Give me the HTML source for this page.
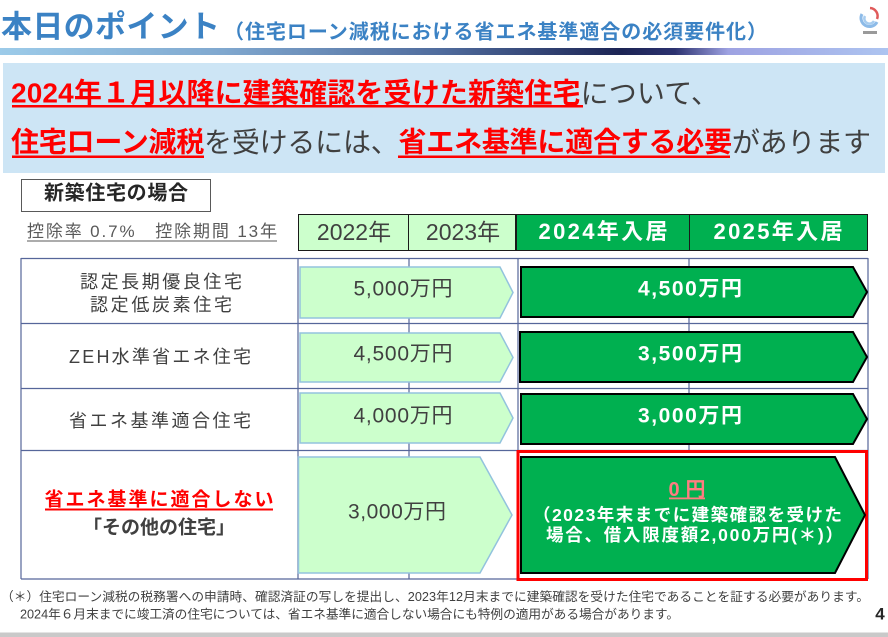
<!DOCTYPE html>
<html><head><meta charset="utf-8">
<style>
html,body{margin:0;padding:0;background:#fff;}
body{width:888px;height:637px;overflow:hidden;}
svg{display:block;}
text{font-family:"Liberation Sans","Noto Sans CJK JP",sans-serif;}
</style></head>
<body>
<svg width="888" height="637" viewBox="0 0 888 637" xmlns="http://www.w3.org/2000/svg">
<defs>
<linearGradient id="gb" x1="0" y1="0" x2="1" y2="0">
<stop offset="0" stop-color="#9ccbe9"/>
<stop offset="0.25" stop-color="#80a8cf"/>
<stop offset="0.5" stop-color="#4f6b9c"/>
<stop offset="0.7" stop-color="#1c2454"/>
<stop offset="0.76" stop-color="#2c3270"/>
<stop offset="0.82" stop-color="#9ea2e2"/>
<stop offset="1" stop-color="#adc4f0"/>
</linearGradient>
</defs>

<!-- title -->
<text x="1" y="27" font-size="31" font-weight="bold" fill="#3b82c4" dominant-baseline="central" textLength="219">本日のポイント</text>
<text x="224" y="32.5" font-size="20" font-weight="bold" fill="#3b82c4" dominant-baseline="central" textLength="543">（住宅ローン減税における省エネ基準適合の必須要件化）</text>

<!-- logo -->
<g fill="none">
<path d="M862 14 A8.5 8.5 0 1 0 877 22" stroke="#8dbbe8" stroke-width="3"/>
<path d="M865 16 A5 5 0 1 0 874 21" stroke="#a8cdef" stroke-width="2.5"/>
<path d="M870 8 A8 8 0 0 1 877 19" stroke="#e05a5a" stroke-width="2.5"/>
</g>
<rect x="863" y="31" width="14" height="3" fill="#9a9a9a"/>

<!-- gradient bar -->
<rect x="0" y="48" width="888" height="7" fill="url(#gb)"/>

<!-- blue box -->
<rect x="3" y="63" width="882" height="110" fill="#cde5f5"/>
<text x="11" y="93" font-size="28" font-weight="bold" fill="#ff0000" dominant-baseline="central" textLength="708">2024年１月以降に建築確認を受けた新築住宅<tspan fill="#404040" font-weight="normal">について、</tspan></text>
<rect x="12" y="105" width="571" height="2.5" fill="#ff0000"/>
<text x="11" y="142" font-size="28" font-weight="bold" fill="#ff0000" dominant-baseline="central" textLength="860">住宅ローン減税<tspan fill="#404040" font-weight="normal">を受けるには、</tspan>省エネ基準に適合する必要<tspan fill="#404040" font-weight="normal">があります</tspan></text>
<rect x="12" y="155.5" width="192" height="2.5" fill="#ff0000"/>
<rect x="398" y="155.5" width="332" height="2.5" fill="#ff0000"/>

<!-- 新築住宅の場合 -->
<rect x="21.5" y="179.5" width="189" height="32" fill="#fff" stroke="#595959" stroke-width="1"/>
<text x="116" y="193.5" font-size="20" font-weight="bold" fill="#262626" dominant-baseline="central" text-anchor="middle" textLength="144">新築住宅の場合</text>
<text x="27" y="231.5" font-size="17" fill="#595959" dominant-baseline="central" textLength="250">控除率 0.7%　控除期間 13年</text>
<rect x="27" y="240.5" width="250" height="1" fill="#595959"/>

<!-- header -->
<rect x="298.5" y="214.5" width="110" height="36" fill="#ccffcc" stroke="#1a1a1a" stroke-width="1"/>
<rect x="408.5" y="214.5" width="107" height="36" fill="#ccffcc" stroke="#1a1a1a" stroke-width="1"/>
<rect x="516.5" y="214.5" width="173" height="36" fill="#00b050" stroke="#1a1a1a" stroke-width="1"/>
<rect x="689.5" y="214.5" width="178" height="36" fill="#00b050" stroke="#1a1a1a" stroke-width="1"/>
<text x="354" y="232" font-size="23" fill="#404040" dominant-baseline="central" text-anchor="middle">2022年</text>
<text x="463" y="232" font-size="23" fill="#404040" dominant-baseline="central" text-anchor="middle">2023年</text>
<text x="603" y="231.5" font-size="22" font-weight="bold" fill="#ffffff" dominant-baseline="central" text-anchor="middle" textLength="129">2024年入居</text>
<text x="778" y="231.5" font-size="22" font-weight="bold" fill="#ffffff" dominant-baseline="central" text-anchor="middle" textLength="129">2025年入居</text>

<!-- table grid -->
<g stroke="#56669a" stroke-width="1.2" fill="none">
<line x1="21" y1="258.5" x2="868" y2="258.5"/>
<line x1="21" y1="323.5" x2="868" y2="323.5"/>
<line x1="21" y1="388.5" x2="868" y2="388.5"/>
<line x1="21" y1="450.5" x2="868" y2="450.5"/>
<line x1="21" y1="579" x2="868" y2="579"/>
<line x1="21" y1="258" x2="21" y2="579"/>
<line x1="298" y1="258" x2="298" y2="579"/>
<line x1="409" y1="258" x2="409" y2="579"/>
<line x1="518" y1="258" x2="518" y2="579"/>
<line x1="689" y1="258" x2="689" y2="579"/>
<line x1="868" y1="258" x2="868" y2="579"/>
</g>

<!-- light arrows -->
<g fill="#ccffcc" stroke="#93c3dd" stroke-width="1.5">
<polygon points="300,267 500,267 513,292.5 500,318 300,318"/>
<polygon points="300,333 500,333 513,357.5 500,382 300,382"/>
<polygon points="300,393 500,393 513,418 500,443 300,443"/>
<polygon points="298.5,457 480,457 512,515 480,573 298.5,573"/>
</g>

<!-- red box -->
<rect x="518" y="451.5" width="348.5" height="128" fill="#fff" stroke="#ff0000" stroke-width="3"/>

<!-- dark arrows -->
<g fill="#00b050" stroke="#000" stroke-width="2">
<polygon points="521,267 853,267 867,292 853,317 521,317"/>
<polygon points="520,332 853,332 867,357 853,382 520,382"/>
<polygon points="521,394 853,394 867,419 853,444 521,444"/>
<polygon points="521,457 835,457 865,515 835,573 521,573"/>
</g>

<!-- row labels -->
<g font-size="18" fill="#404040" text-anchor="middle">
<text x="161" y="282" dominant-baseline="central" textLength="162">認定長期優良住宅</text>
<text x="161" y="305" dominant-baseline="central" textLength="142">認定低炭素住宅</text>
<text x="160" y="357" dominant-baseline="central" textLength="182">ZEH水準省エネ住宅</text>
<text x="160" y="421" dominant-baseline="central" textLength="182">省エネ基準適合住宅</text>
</g>
<text x="159" y="500" font-size="19" font-weight="bold" fill="#ff0000" dominant-baseline="central" text-anchor="middle" textLength="229">省エネ基準に適合しない</text>
<rect x="45" y="508.5" width="228" height="2" fill="#ff0000"/>
<text x="159" y="528" font-size="19" font-weight="bold" fill="#404040" dominant-baseline="central" text-anchor="middle" textLength="152">「その他の住宅」</text>

<!-- light arrow values -->
<g font-size="21" fill="#404040" text-anchor="middle">
<text x="403" y="289" dominant-baseline="central" textLength="99">5,000万円</text>
<text x="403" y="354" dominant-baseline="central" textLength="99">4,500万円</text>
<text x="403" y="416" dominant-baseline="central" textLength="99">4,000万円</text>
<text x="397" y="512" dominant-baseline="central" textLength="98">3,000万円</text>
</g>

<!-- dark arrow values -->
<g font-size="21" font-weight="bold" fill="#ffffff" text-anchor="middle">
<text x="690" y="289" dominant-baseline="central" textLength="104">4,500万円</text>
<text x="690" y="354" dominant-baseline="central" textLength="104">3,500万円</text>
<text x="690" y="416" dominant-baseline="central" textLength="104">3,000万円</text>
</g>
<text x="687" y="490" font-size="20" font-weight="bold" fill="#ff7c80" dominant-baseline="central" text-anchor="middle" textLength="37">0円</text>
<rect x="669" y="497.5" width="36" height="1.8" fill="#ff7c80"/>
<text x="533" y="515" font-size="17.5" font-weight="bold" fill="#ffffff" dominant-baseline="central" textLength="309">（2023年末までに建築確認を受けた</text>
<text x="546" y="535" font-size="17.5" font-weight="bold" fill="#ffffff" dominant-baseline="central" textLength="297">場合、借入限度額2,000万円(＊)）</text>

<!-- footnotes -->
<text x="1" y="597" font-size="12.7" fill="#404040" dominant-baseline="central" textLength="868">（＊）住宅ローン減税の税務署への申請時、確認済証の写しを提出し、2023年12月末までに建築確認を受けた住宅であることを証する必要があります。</text>
<text x="20" y="614.5" font-size="12.7" fill="#404040" dominant-baseline="central" textLength="659">2024年６月末までに竣工済の住宅については、省エネ基準に適合しない場合にも特例の適用がある場合があります。</text>
<text x="880" y="614" font-size="17" font-weight="bold" fill="#262626" dominant-baseline="central" text-anchor="middle">4</text>

<!-- bottom bar -->
<rect x="0" y="632.5" width="888" height="5" fill="#c9c9c9"/>
</svg>
</body></html>
